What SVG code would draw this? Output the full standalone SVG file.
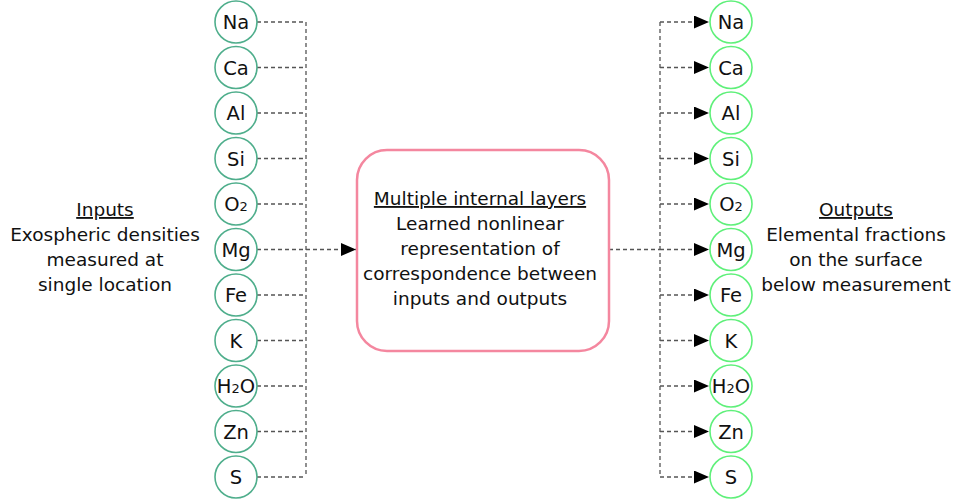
<svg xmlns="http://www.w3.org/2000/svg" width="954" height="499" viewBox="0 0 954 499">
<defs>
<style>
text{font-family:"DejaVu Sans",Verdana,sans-serif;font-size:18.5px;fill:#111;text-anchor:middle}
.n text{font-size:19.5px}
.in{fill:#fff;stroke:#4fae8c;stroke-width:1.6}
.out{fill:#fff;stroke:#5ff07a;stroke-width:1.6}
.c{fill:none;stroke:#555;stroke-width:1.3;stroke-dasharray:4 3}
.u{text-decoration:underline}
.n .s{font-size:13px}
</style>
<marker id="ah" viewBox="0 0 15 13" refX="15" refY="6.5" markerWidth="15" markerHeight="13" markerUnits="userSpaceOnUse" orient="auto"><path d="M0,0 L15,6.5 L0,13 Z" fill="#000"/></marker>
</defs>
<g id="connectors">
<path class="c" d="M257,22 H306 M257,67.5 H306 M257,113 H306 M257,158.5 H306 M257,204 H306 M257,295 H306 M257,340.5 H306 M257,386 H306 M257,431.5 H306 M257,477 H306 M306,22 V477"/>
<path class="c" d="M257,249.5 H356" marker-end="url(#ah)"/>
<path class="c" d="M609,249.5 H660 M660,22 V477"/>
<path class="c" d="M660,22 H709" marker-end="url(#ah)"/>
<path class="c" d="M660,67.5 H709" marker-end="url(#ah)"/>
<path class="c" d="M660,113 H709" marker-end="url(#ah)"/>
<path class="c" d="M660,158.5 H709" marker-end="url(#ah)"/>
<path class="c" d="M660,204 H709" marker-end="url(#ah)"/>
<path class="c" d="M660,249.5 H709" marker-end="url(#ah)"/>
<path class="c" d="M660,295 H709" marker-end="url(#ah)"/>
<path class="c" d="M660,340.5 H709" marker-end="url(#ah)"/>
<path class="c" d="M660,386 H709" marker-end="url(#ah)"/>
<path class="c" d="M660,431.5 H709" marker-end="url(#ah)"/>
<path class="c" d="M660,477 H709" marker-end="url(#ah)"/>
</g>
<g id="inputs-label">
<text x="105" y="216" class="u">Inputs</text>
<text x="105" y="241">Exospheric densities</text>
<text x="105" y="266">measured at</text>
<text x="105" y="291">single location</text>
</g>
<g id="outputs-label">
<text x="856" y="216" class="u">Outputs</text>
<text x="856" y="241">Elemental fractions</text>
<text x="856" y="266">on the surface</text>
<text x="856" y="291">below measurement</text>
</g>
<g id="model">
<rect x="357" y="150" width="252" height="201" rx="30" fill="#fff" stroke="#f4879f" stroke-width="2.5"/>
<text x="480" y="205" class="u">Multiple internal layers</text>
<text x="480" y="230">Learned nonlinear</text>
<text x="480" y="255">representation of</text>
<text x="480" y="280">correspondence between</text>
<text x="480" y="305">inputs and outputs</text>
</g>
<g class="n">
<g id="in-Na"><circle class="in" cx="236" cy="22" r="21"/><text x="236" y="29">Na</text></g>
<g id="in-Ca"><circle class="in" cx="236" cy="67.5" r="21"/><text x="236" y="74.5">Ca</text></g>
<g id="in-Al"><circle class="in" cx="236" cy="113" r="21"/><text x="236" y="120">Al</text></g>
<g id="in-Si"><circle class="in" cx="236" cy="158.5" r="21"/><text x="236" y="165.5">Si</text></g>
<g id="in-O2"><circle class="in" cx="236" cy="204" r="21"/><text x="236" y="211">O<tspan class="s">2</tspan></text></g>
<g id="in-Mg"><circle class="in" cx="236" cy="249.5" r="21"/><text x="236" y="256.5">Mg</text></g>
<g id="in-Fe"><circle class="in" cx="236" cy="295" r="21"/><text x="236" y="302">Fe</text></g>
<g id="in-K"><circle class="in" cx="236" cy="340.5" r="21"/><text x="236" y="347.5">K</text></g>
<g id="in-H2O"><circle class="in" cx="236" cy="386" r="21"/><text x="236" y="393">H<tspan class="s">2</tspan>O</text></g>
<g id="in-Zn"><circle class="in" cx="236" cy="431.5" r="21"/><text x="236" y="438.5">Zn</text></g>
<g id="in-S"><circle class="in" cx="236" cy="477" r="21"/><text x="236" y="484">S</text></g>
<g id="out-Na"><circle class="out" cx="731" cy="22" r="21"/><text x="731" y="29">Na</text></g>
<g id="out-Ca"><circle class="out" cx="731" cy="67.5" r="21"/><text x="731" y="74.5">Ca</text></g>
<g id="out-Al"><circle class="out" cx="731" cy="113" r="21"/><text x="731" y="120">Al</text></g>
<g id="out-Si"><circle class="out" cx="731" cy="158.5" r="21"/><text x="731" y="165.5">Si</text></g>
<g id="out-O2"><circle class="out" cx="731" cy="204" r="21"/><text x="731" y="211">O<tspan class="s">2</tspan></text></g>
<g id="out-Mg"><circle class="out" cx="731" cy="249.5" r="21"/><text x="731" y="256.5">Mg</text></g>
<g id="out-Fe"><circle class="out" cx="731" cy="295" r="21"/><text x="731" y="302">Fe</text></g>
<g id="out-K"><circle class="out" cx="731" cy="340.5" r="21"/><text x="731" y="347.5">K</text></g>
<g id="out-H2O"><circle class="out" cx="731" cy="386" r="21"/><text x="731" y="393">H<tspan class="s">2</tspan>O</text></g>
<g id="out-Zn"><circle class="out" cx="731" cy="431.5" r="21"/><text x="731" y="438.5">Zn</text></g>
<g id="out-S"><circle class="out" cx="731" cy="477" r="21"/><text x="731" y="484">S</text></g>
</g>
</svg>
